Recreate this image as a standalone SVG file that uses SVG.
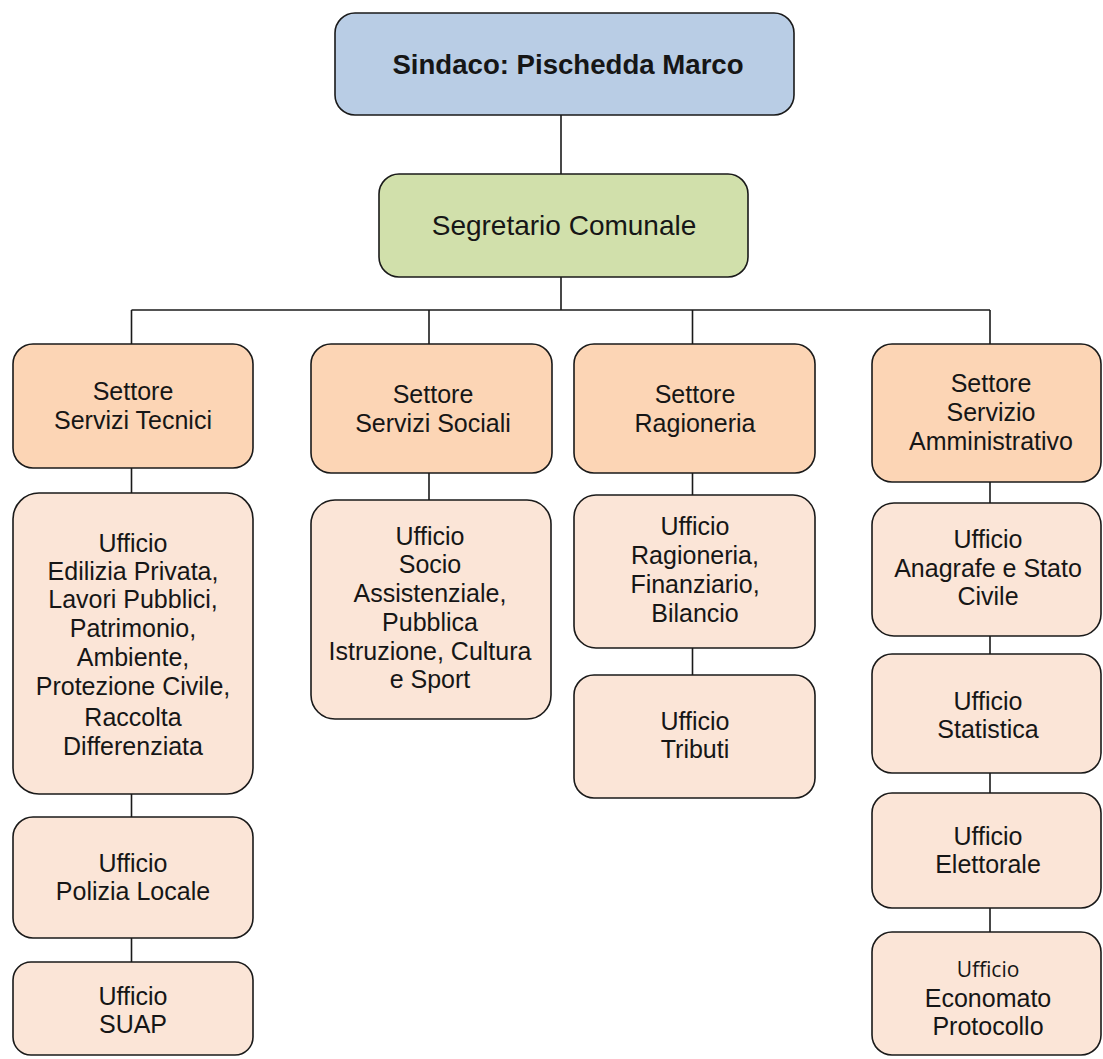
<svg xmlns="http://www.w3.org/2000/svg" width="1103" height="1059" viewBox="0 0 1103 1059">
<style>
.box{stroke:#1a1a1a;stroke-width:1.6}
.top{fill:#b9cde5}
.seg{fill:#d1e0ab}
.set{fill:#fcd5b5}
.uff{fill:#fbe5d7}
text{font-family:"Liberation Sans",Arial,sans-serif;fill:#161616;text-anchor:middle}
.t27{font-size:27.6px}
.t28{font-size:28px}
.t25{font-size:25px}
.b{font-weight:bold}
.conn path{stroke:#1a1a1a;stroke-width:1.6;fill:none}
</style>
<rect width="1103" height="1059" fill="#ffffff"/>
<g class="conn">
<path d="M561,115 V174"/>
<path d="M561,277 V310"/>
<path d="M131.5,310 H990"/>
<path d="M131.5,310 V344"/>
<path d="M429,310 V344"/>
<path d="M692.5,310 V344"/>
<path d="M990,310 V344"/>
<path d="M131.5,468 V493"/>
<path d="M131.5,794 V817"/>
<path d="M131.5,938 V962"/>
<path d="M429,473 V500"/>
<path d="M692.5,473 V495"/>
<path d="M692.5,648 V675"/>
<path d="M990,482 V503"/>
<path d="M990,636 V654"/>
<path d="M990,773 V793"/>
<path d="M990,908 V932"/>
</g>
<g id="sindaco">
<rect class="box top" x="335" y="13" width="459" height="102" rx="20"/>
<text class="t27 b" x="568" y="74">Sindaco: Pischedda Marco</text>
</g>
<g id="segretario">
<rect class="box seg" x="379" y="174" width="369" height="103" rx="20"/>
<text class="t28" x="564" y="235">Segretario Comunale</text>
</g>
<g id="settore-tecnici">
<rect class="box set" x="13" y="344" width="240" height="124" rx="20"/>
<text class="t25" x="133" y="400">Settore</text>
<text class="t25" x="133" y="429">Servizi Tecnici</text>
</g>
<g id="settore-sociali">
<rect class="box set" x="311" y="344" width="241" height="129" rx="20"/>
<text class="t25" x="433" y="403">Settore</text>
<text class="t25" x="433" y="432">Servizi Sociali</text>
</g>
<g id="settore-ragioneria">
<rect class="box set" x="574" y="344" width="241" height="129" rx="20"/>
<text class="t25" x="695" y="403">Settore</text>
<text class="t25" x="695" y="432">Ragioneria</text>
</g>
<g id="settore-amministrativo">
<rect class="box set" x="872" y="344" width="229" height="138" rx="20"/>
<text class="t25" x="991" y="392">Settore</text>
<text class="t25" x="991" y="421">Servizio</text>
<text class="t25" x="991" y="450">Amministrativo</text>
</g>
<g id="uff-edilizia">
<rect class="box uff" x="13" y="493" width="240" height="301" rx="26"/>
<text class="t25" x="133" y="552">Ufficio</text>
<text class="t25" x="133" y="580">Edilizia Privata,</text>
<text class="t25" x="133" y="608">Lavori Pubblici,</text>
<text class="t25" x="133" y="637">Patrimonio,</text>
<text class="t25" x="133" y="666">Ambiente,</text>
<text class="t25" x="133" y="695">Protezione Civile,</text>
<text class="t25" x="133" y="726">Raccolta</text>
<text class="t25" x="133" y="755">Differenziata</text>
</g>
<g id="uff-polizia">
<rect class="box uff" x="13" y="817" width="240" height="121" rx="20"/>
<text class="t25" x="133" y="872">Ufficio</text>
<text class="t25" x="133" y="900">Polizia Locale</text>
</g>
<g id="uff-suap">
<rect class="box uff" x="13" y="962" width="240" height="93" rx="18"/>
<text class="t25" x="133" y="1005">Ufficio</text>
<text class="t25" x="133" y="1033">SUAP</text>
</g>
<g id="uff-socio">
<rect class="box uff" x="311" y="500" width="240" height="219" rx="24"/>
<text class="t25" x="430" y="545">Ufficio</text>
<text class="t25" x="430" y="573">Socio</text>
<text class="t25" x="430" y="602">Assistenziale,</text>
<text class="t25" x="430" y="631">Pubblica</text>
<text class="t25" x="430" y="660">Istruzione, Cultura</text>
<text class="t25" x="430" y="688">e Sport</text>
</g>
<g id="uff-ragioneria">
<rect class="box uff" x="574" y="495" width="241" height="153" rx="22"/>
<text class="t25" x="695" y="535">Ufficio</text>
<text class="t25" x="695" y="564">Ragioneria,</text>
<text class="t25" x="695" y="593">Finanziario,</text>
<text class="t25" x="695" y="622">Bilancio</text>
</g>
<g id="uff-tributi">
<rect class="box uff" x="574" y="675" width="241" height="123" rx="20"/>
<text class="t25" x="695" y="730">Ufficio</text>
<text class="t25" x="695" y="758">Tributi</text>
</g>
<g id="uff-anagrafe">
<rect class="box uff" x="872" y="503" width="229" height="133" rx="22"/>
<text class="t25" x="988" y="548">Ufficio</text>
<text class="t25" x="988" y="577">Anagrafe e Stato</text>
<text class="t25" x="988" y="605">Civile</text>
</g>
<g id="uff-statistica">
<rect class="box uff" x="872" y="654" width="229" height="119" rx="20"/>
<text class="t25" x="988" y="710">Ufficio</text>
<text class="t25" x="988" y="738">Statistica</text>
</g>
<g id="uff-elettorale">
<rect class="box uff" x="872" y="793" width="229" height="115" rx="20"/>
<text class="t25" x="988" y="845">Ufficio</text>
<text class="t25" x="988" y="873">Elettorale</text>
</g>
<g id="uff-economato">
<rect class="box uff" x="872" y="932" width="229" height="123" rx="20"/>
<text x="988" y="977" style="font-family:'Open Sans',sans-serif;font-size:21px">Ufficio</text>
<text class="t25" x="988" y="1007">Economato</text>
<text class="t25" x="988" y="1035">Protocollo</text>
</g>
</svg>
